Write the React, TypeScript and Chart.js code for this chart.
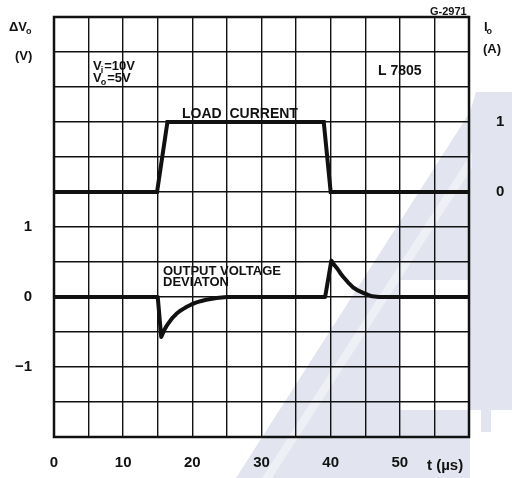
import React, { useEffect, useRef } from "react";
import { Chart, registerables } from "chart.js";

Chart.register(...registerables);

// Load current (A) vs time (µs)
const loadTime = [0, 14.9, 16.4, 39.0, 40.0, 60];
const loadCurrent = [0, 0, 1, 1, 0, 0];

// Output voltage deviation (V) vs time (µs)
const devTime = [
  0, 15.0, 15.5, 15.9, 16.3, 16.8, 17.2, 17.7, 18.2, 18.7, 19.2, 19.8, 20.5, 21.2, 22.0, 23.5, 25.0,
  39.2, 40.1, 40.5, 41.0, 41.4, 41.8, 42.5, 43.2, 44.0, 44.7, 45.4, 46.0, 47.0, 60,
];
const devVoltage = [
  0, 0, -0.57, -0.48, -0.41, -0.34, -0.29, -0.24, -0.2, -0.17, -0.14, -0.11, -0.08, -0.06, -0.04, -0.015, 0,
  0, 0.52, 0.46, 0.4, 0.34, 0.29, 0.21, 0.14, 0.09, 0.06, 0.03, 0.01, 0, 0,
];

const xTickLabels = [0, 10, 20, 30, 40, 50];
const leftTickLabels = [1, 0, -1];
const rightTickLabels = [1, 0];

const FONT = "'Liberation Sans', Arial, sans-serif";
const INK = "#111111";

const watermark = {
  id: "watermark",
  beforeDraw(chart: any) {
    const ctx = chart.ctx;
    ctx.save();
    ctx.fillStyle = "#ffffff";
    ctx.fillRect(0, 0, chart.width, chart.height);
    ctx.fillStyle = "#e2e5ef";
    ctx.beginPath();
    ctx.moveTo(236, 478);
    ctx.lineTo(470, 478);
    ctx.lineTo(470, 410);
    ctx.lineTo(512, 410);
    ctx.lineTo(512, 92);
    ctx.lineTo(476, 92);
    ctx.lineTo(470, 112);
    ctx.closePath();
    ctx.fill();
    // lighter diagonal streak
    ctx.fillStyle = "#eef0f6";
    ctx.beginPath();
    ctx.moveTo(262, 478);
    ctx.lineTo(272, 478);
    ctx.lineTo(472, 168);
    ctx.lineTo(472, 152);
    ctx.closePath();
    ctx.fill();
    // white patch in lower right of plot
    ctx.fillStyle = "#ffffff";
    ctx.fillRect(400, 280, 70, 130);
    ctx.fillRect(470, 410, 42, 68);
    ctx.fillStyle = "#e2e5ef";
    ctx.fillRect(481, 410, 10, 22);
    ctx.restore();
  },
};

function sub(ctx: any, x: number, y: number, main: string, s: string, rest: string, size: number) {
  ctx.font = `bold ${size}px ${FONT}`;
  ctx.fillText(main, x, y);
  const w = ctx.measureText(main).width;
  ctx.font = `bold ${Math.round(size * 0.72)}px ${FONT}`;
  ctx.fillText(s, x + w - 1, y + 3);
  const w2 = ctx.measureText(s).width;
  ctx.font = `bold ${size}px ${FONT}`;
  ctx.fillText(rest, x + w + w2, y);
}

const annotations = {
  id: "annotations",
  afterDraw(chart: any) {
    const ctx = chart.ctx;
    const a = chart.chartArea;
    ctx.save();
    ctx.strokeStyle = INK;
    ctx.lineWidth = 2.5;
    ctx.strokeRect(a.left, a.top, a.right - a.left, a.bottom - a.top);

    ctx.fillStyle = INK;
    ctx.textAlign = "left";
    ctx.textBaseline = "alphabetic";

    sub(ctx, 9, 31, "ΔV", "o", "", 13);
    ctx.font = `bold 13px ${FONT}`;
    ctx.fillText("(V)", 15, 60);

    sub(ctx, 484, 31, "I", "o", "", 13);
    ctx.font = `bold 13px ${FONT}`;
    ctx.fillText("(A)", 483, 53);

    sub(ctx, 93, 70, "V", "i", "=10V", 13);
    sub(ctx, 93, 82, "V", "o", "=5V", 13);

    ctx.font = `bold 14px ${FONT}`;
    ctx.fillText("L 7805", 378, 75);

    ctx.font = `bold 11px ${FONT}`;
    ctx.fillText("G-2971", 430, 15);

    ctx.font = `bold 14px ${FONT}`;
    ctx.fillText("LOAD  CURRENT", 182, 118);

    ctx.font = `bold 13px ${FONT}`;
    ctx.fillText("OUTPUT VOLTAGE", 163, 275);
    ctx.fillText("DEVIATON", 163, 286);

    ctx.font = `bold 15px ${FONT}`;
    ctx.fillText("t (µs)", 427, 470);
    ctx.restore();
  },
};

function noPad(s: any) {
  s.paddingTop = 0;
  s.paddingBottom = 0;
  s.paddingLeft = 0;
  s.paddingRight = 0;
}

export default function App() {
  const ref = useRef<HTMLCanvasElement | null>(null);

  useEffect(() => {
    if (!ref.current) return;
    const chart = new Chart(ref.current, {
      type: "line",
      data: {
        datasets: [
          {
            label: "Load current",
            data: loadTime.map((t, i) => ({ x: t, y: loadCurrent[i] })),
            yAxisID: "y2",
            borderColor: INK,
            borderWidth: 4,
            pointRadius: 0,
            tension: 0,
            borderJoinStyle: "miter",
          },
          {
            label: "Output voltage deviation",
            data: devTime.map((t, i) => ({ x: t, y: devVoltage[i] })),
            yAxisID: "y",
            borderColor: INK,
            borderWidth: 4,
            pointRadius: 0,
            tension: 0,
            borderJoinStyle: "round",
          },
        ],
      },
      options: {
        animation: false,
        responsive: false,
        maintainAspectRatio: false,
        layout: { padding: { top: 17, left: 0, right: 0, bottom: 0 }, autoPadding: false },
        plugins: { legend: { display: false }, tooltip: { enabled: false } },
        scales: {
          x: {
            type: "linear",
            min: 0,
            max: 60,
            afterFit: (s: any) => { s.height = 41; noPad(s); },
            border: { display: false },
            grid: { color: INK, lineWidth: 1.4, drawTicks: false },
            ticks: {
              stepSize: 5,
              autoSkip: false,
              maxRotation: 0,
              padding: 17,
              color: INK,
              font: { family: FONT, size: 15, weight: "bold" },
              callback: (v: any) => (xTickLabels.includes(Number(v)) ? String(v) : ""),
            },
          },
          y: {
            type: "linear",
            position: "left",
            min: -2,
            max: 4,
            afterFit: (s: any) => { s.width = 54; noPad(s); },
            border: { display: false },
            grid: { color: INK, lineWidth: 1.4, drawTicks: false },
            ticks: {
              stepSize: 0.5,
              autoSkip: false,
              padding: 22,
              color: INK,
              font: { family: FONT, size: 15, weight: "bold" },
              callback: (v: any) => {
                const n = Number(v);
                const hit = leftTickLabels.find((t) => Math.abs(t - n) < 1e-9);
                if (hit === undefined) return "";
                return hit < 0 ? "−" + Math.abs(hit) : String(hit);
              },
            },
          },
          y2: {
            type: "linear",
            position: "right",
            min: -3.5,
            max: 2.5,
            afterFit: (s: any) => { s.width = 43; noPad(s); },
            border: { display: false },
            grid: { display: false, drawTicks: false },
            ticks: {
              stepSize: 0.5,
              autoSkip: false,
              padding: 27,
              crossAlign: "center",
              color: INK,
              font: { family: FONT, size: 15, weight: "bold" },
              callback: (v: any) => {
                const n = Number(v);
                const hit = rightTickLabels.find((t) => Math.abs(t - n) < 1e-9);
                return hit === undefined ? "" : String(hit);
              },
            },
          },
        },
      },
      plugins: [watermark, annotations],
    } as any);
    return () => chart.destroy();
  }, []);

  return (
    <div style={{ position: "absolute", left: 0, top: 0, width: 512, height: 478 }}>
      <canvas ref={ref} width={512} height={478} style={{ display: "block" }} />
    </div>
  );
}
